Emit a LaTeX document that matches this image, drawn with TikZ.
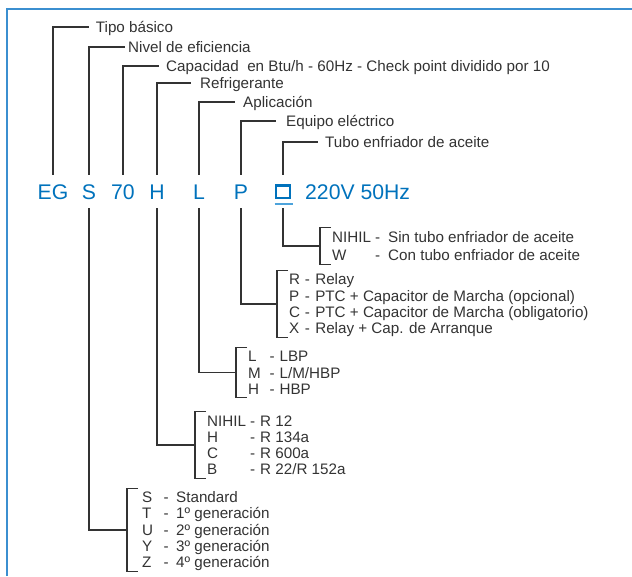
\documentclass[tikz,border=0pt]{standalone}
\usepackage{fontspec}
\setmainfont{Liberation Sans}
\definecolor{codeblue}{RGB}{0,114,188}
\definecolor{frameblue}{RGB}{59,143,208}
\definecolor{lineblue}{RGB}{77,163,219}
\definecolor{ink}{RGB}{51,51,51}
\tikzset{
  code/.style={inner sep=0pt, text height=24pt, text depth=9pt, anchor=base,
    text=codeblue, font=\fontsize{21.2}{24}\selectfont},
  tag/.style={anchor=west, inner xsep=7pt, inner ysep=0pt, text height=11pt,
    text depth=0pt, text=ink, font=\fontsize{15.2}{18}\selectfont},
  opts/.style={anchor=west, inner xsep=12pt, inner ysep=0.4pt, align=left,
    text=ink, font=\fontsize{15.2}{16.3}\selectfont,
    execute at begin node={\lineskiplimit=-50pt\relax}},
  wire/.style={draw=ink, line width=1.2pt},
}
% one row of an option list: letter box, dash box, text
\newcommand{\opt}[4]{\rule[-2.65pt]{0pt}{16.3pt}\makebox[#1][l]{#3}\makebox[#2][l]{-}#4}
\begin{document}
\begin{tikzpicture}[x=1pt,y=-1pt]
  \useasboundingbox (0,0) rectangle (632,576);
  \draw[frameblue, line width=2pt] (7,576) -- (7,9) -- (632,9);

  % code row
  \node[code] (cE) at (53,199) {EG};
  \node[code] (cS) at (89,199) {S};
  \node[code] (c70) at (123,199) {70};
  \node[code] (cH) at (157,199) {H};
  \node[code] (cL) at (199,199) {L};
  \node[code] (cP) at (241,199) {P};
  \node[code, minimum width=15pt] (cQ) at (283,199) {};
  \node[code, anchor=base west] (cV) at (305,199) {220V 50Hz};
  \draw[codeblue, line width=2.2pt] (cQ.base) +(-7,-1.1) rectangle +(7,-13.5);
  \draw[lineblue, line width=2pt] (cQ.base) +(-8.5,4.5) -- +(9.5,4.5);

  % names above
  \node[tag] (tE) at (88.7,27) {Tipo básico};
  \node[tag, inner xsep=3pt] (tS) at (125,47) {Nivel de eficiencia};
  \node[tag] (t70) at (159,66) {Capacidad\ \ en Btu/h - 60Hz - Check point dividido por 10};
  \node[tag, inner xsep=9pt] (tH) at (191,83) {Refrigerante};
  \node[tag, inner xsep=8pt] (tL) at (235,102) {Aplicación};
  \node[tag, inner xsep=10pt] (tP) at (276,121) {Equipo eléctrico};
  \node[tag] (tQ) at (318,142) {Tubo enfriador de aceite};
  \foreach \c in {E,S,70,H,L,P,Q}
    \draw[wire] (c\c.north) |- (t\c.west);

  % options below
  \node[opts] (gQ) at (320,246) {\opt{43pt}{13pt}{NIHIL}{Sin tubo enfriador de aceite}\\[2.5pt]
    \opt{43pt}{13pt}{W}{Con tubo enfriador de aceite}};
  \node[opts] (gP) at (277,304) {\opt{15.6pt}{10.5pt}{R}{Relay}\\
    \opt{15.6pt}{10.5pt}{P}{PTC + Capacitor de Marcha (opcional)}\\
    \opt{15.6pt}{10.5pt}{C}{PTC + Capacitor de Marcha (obligatorio)}\\
    \opt{15.6pt}{10.5pt}{X}{Relay + Cap. de Arranque}};
  \node[opts] (gL) at (236,372.5) {\opt{21.4pt}{10pt}{L}{LBP}\\
    \opt{21.4pt}{10pt}{M}{L/M/HBP}\\
    \opt{21.4pt}{10pt}{H}{HBP}};
  \node[opts] (gH) at (195,445) {\opt{43pt}{10pt}{NIHIL}{R 12}\\
    \opt{43pt}{10pt}{H}{R 134a}\\
    \opt{43pt}{10pt}{C}{R 600a}\\
    \opt{43pt}{10pt}{B}{R 22/R 152a}};
  \node[opts, inner xsep=15pt] (gS) at (127,530) {\opt{21.4pt}{12.6pt}{S}{Standard}\\
    \opt{21.4pt}{12.6pt}{T}{1º generación}\\
    \opt{21.4pt}{12.6pt}{U}{2º generación}\\
    \opt{21.4pt}{12.6pt}{Y}{3º generación}\\
    \opt{21.4pt}{12.6pt}{Z}{4º generación}};
  \foreach \c in {Q,P,L,H,S} {
    \draw[wire] (c\c.south) |- (g\c.west);
    \draw[wire] ([xshift=11pt]g\c.north west) -- (g\c.north west)
      -- (g\c.south west) -- ([xshift=11pt]g\c.south west);
  }
\end{tikzpicture}
\end{document}
